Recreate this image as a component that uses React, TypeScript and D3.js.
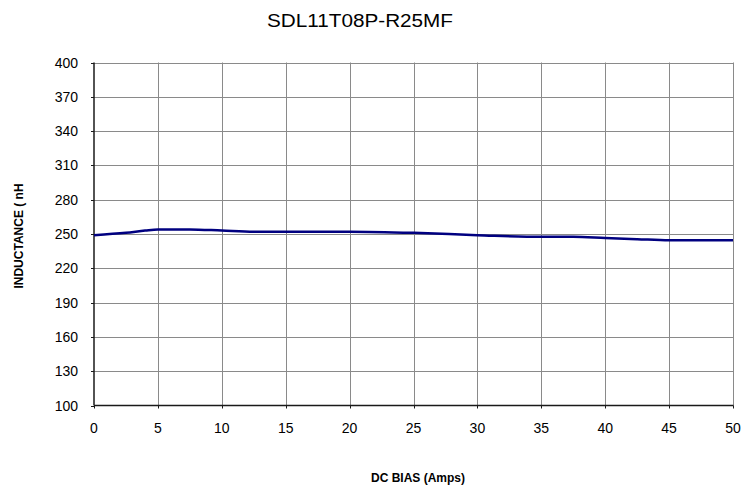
// Inductance vs DC bias curve for SDL11T08P-R25MF

import { useEffect, useRef } from "react";
import * as d3 from "d3";

const biasAmps = [0, 2.5, 4, 5, 7.5, 10, 12.5, 15, 20, 25, 30, 35, 37.5, 40, 42.5, 45, 50];
const inductanceNh = [249, 251, 253, 254, 254, 253, 252, 252, 252, 251, 249, 247.5, 247.5, 246.5, 245.5, 244.5, 244.5];
const xTicks = [0, 5, 10, 15, 20, 25, 30, 35, 40, 45, 50];
const yTicks = [100, 130, 160, 190, 220, 250, 280, 310, 340, 370, 400];

export default function App() {
  const svgRef = useRef<SVGSVGElement>(null);
  const width = 744;
  const height = 485;

  useEffect(() => {
    if (!svgRef.current) return;
    const svg = d3.select(svgRef.current);
    svg.selectAll("*").remove();

    const left = 94;
    const right = 733;
    const top = 62.5;
    const bottom = 405.5;
    const font = "Arial, 'Liberation Sans', sans-serif";

    const x = d3.scaleLinear().domain([0, 50]).range([left, right]);
    const y = d3.scaleLinear().domain([100, 400]).range([bottom, top]);

    // gridlines
    const grid = svg.append("g").attr("stroke", "#8a8a8a").attr("stroke-width", 1);
    grid
      .selectAll(".gx")
      .data(xTicks.slice(1))
      .enter()
      .append("line")
      .attr("x1", (d) => Math.round(x(d)) + 0.5)
      .attr("x2", (d) => Math.round(x(d)) + 0.5)
      .attr("y1", top)
      .attr("y2", bottom);
    grid
      .selectAll(".gy")
      .data(yTicks.slice(1))
      .enter()
      .append("line")
      .attr("x1", left)
      .attr("x2", right)
      .attr("y1", (d) => Math.round(y(d)) + 0.5)
      .attr("y2", (d) => Math.round(y(d)) + 0.5);

    // axes
    const axes = svg.append("g").attr("stroke", "#1a1a1a").attr("stroke-width", 1.5);
    axes.append("line").attr("x1", left).attr("x2", left).attr("y1", top).attr("y2", bottom);
    axes.append("line").attr("x1", left).attr("x2", right + 0.5).attr("y1", bottom).attr("y2", bottom);
    axes
      .selectAll(".ty")
      .data(yTicks)
      .enter()
      .append("line")
      .attr("x1", left - 3)
      .attr("x2", left)
      .attr("y1", (d) => Math.round(y(d)) + 0.5)
      .attr("y2", (d) => Math.round(y(d)) + 0.5)
      .attr("stroke-width", 1);
    axes
      .selectAll(".tx")
      .data(xTicks)
      .enter()
      .append("line")
      .attr("x1", (d) => Math.round(x(d)) + 0.5)
      .attr("x2", (d) => Math.round(x(d)) + 0.5)
      .attr("y1", bottom)
      .attr("y2", bottom + 3)
      .attr("stroke-width", 1);

    // tick labels
    svg
      .append("g")
      .selectAll("text")
      .data(yTicks)
      .enter()
      .append("text")
      .attr("x", 78)
      .attr("y", (d) => y(d) + 5)
      .attr("text-anchor", "end")
      .attr("fill", "#000")
      .style("font-family", font)
      .style("font-size", "14px")
      .text((d) => d);
    svg
      .append("g")
      .selectAll("text")
      .data(xTicks)
      .enter()
      .append("text")
      .attr("x", (d) => x(d))
      .attr("y", 433)
      .attr("text-anchor", "middle")
      .attr("fill", "#000")
      .style("font-family", font)
      .style("font-size", "14px")
      .text((d) => d);

    // data line
    const line = d3
      .line<number>()
      .x((d, i) => x(biasAmps[i]))
      .y((d) => y(d))
      .curve(d3.curveMonotoneX);
    svg
      .append("path")
      .datum(inductanceNh)
      .attr("d", line)
      .attr("fill", "none")
      .attr("stroke", "#000080")
      .attr("stroke-width", 2.5);

    // titles
    svg
      .append("text")
      .attr("x", 360)
      .attr("y", 27)
      .attr("text-anchor", "middle")
      .attr("fill", "#000")
      .attr("textLength", 186)
      .attr("lengthAdjust", "spacingAndGlyphs")
      .style("font-family", font)
      .style("font-size", "18px")
      .text("SDL11T08P-R25MF");
    svg
      .append("text")
      .attr("x", 418)
      .attr("y", 482)
      .attr("text-anchor", "middle")
      .attr("fill", "#000")
      .style("font-family", font)
      .style("font-size", "12px")
      .style("font-weight", "bold")
      .text("DC BIAS (Amps)");
    svg
      .append("text")
      .attr("transform", "translate(23, 236) rotate(-90)")
      .attr("text-anchor", "middle")
      .attr("fill", "#000")
      .style("font-family", font)
      .style("font-size", "12px")
      .style("font-weight", "bold")
      .text("INDUCTANCE ( nH");
  }, []);

  return (
    <svg
      ref={svgRef}
      width={width}
      height={height}
      style={{ position: "absolute", left: 0, top: 0, background: "#fff" }}
    />
  );
}
